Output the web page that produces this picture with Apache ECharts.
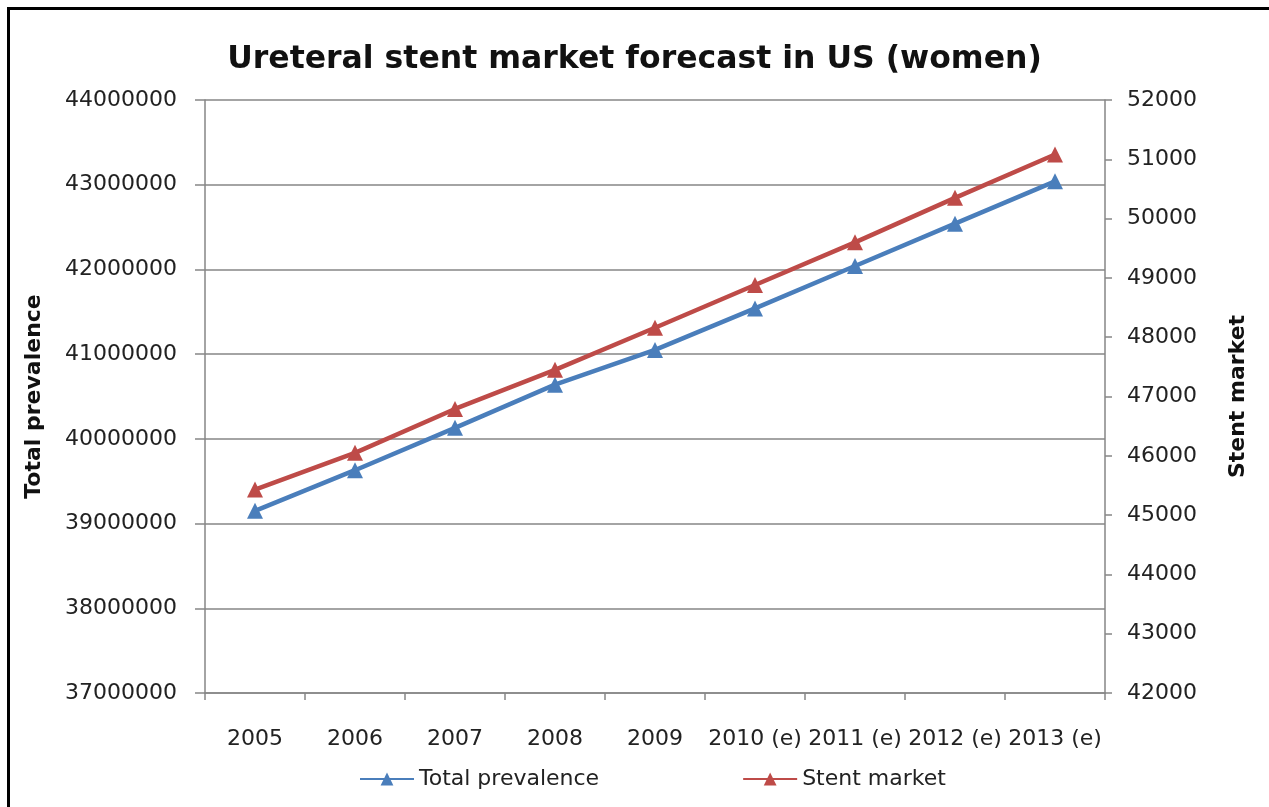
<!DOCTYPE html>
<html>
<head>
<meta charset="utf-8">
<script src="https://cdn.jsdelivr.net/npm/echarts@6/dist/echarts.min.js"></script>
<style>
html,body{margin:0;padding:0;background:#fff;}
#chart{width:1269px;height:807px;}
</style>
</head>
<body>
<div id="chart"></div>
<script>
const titleText = 'Ureteral stent market forecast in US (women)';
const categories = ['2005','2006','2007','2008','2009','2010 (e)','2011 (e)','2012 (e)','2013 (e)'];
const totalPrevalence = [39150000, 39630000, 40130000, 40640000, 41050000, 41540000, 42040000, 42540000, 43040000];
const stentMarket = [45430, 46050, 46790, 47450, 48160, 48880, 49600, 50350, 51080];
const leftAxisName = 'Total prevalence';
const rightAxisName = 'Stent market';

const FONT = 'DejaVu Sans';
const plain = v => String(v);
const chart = echarts.init(document.getElementById('chart'));
chart.setOption({
  backgroundColor: '#ffffff',
  animation: false,
  title: {
    text: titleText,
    left: 'center',
    top: 39,
    textStyle: {fontFamily: FONT, fontSize: 31.5, fontWeight: 'bold', color: '#111'}
  },
  legend: {
    left: 354,
    top: 763,
    itemGap: 143,
    itemWidth: 54,
    itemHeight: 16,
    textStyle: {fontFamily: FONT, fontSize: 22, color: '#222'},
    data: ['Total prevalence', 'Stent market']
  },
  grid: {left: 205, right: 164, top: 100, bottom: 114, containLabel: false, outerBoundsMode: 'none'},
  xAxis: {
    type: 'category',
    data: categories,
    boundaryGap: true,
    axisLine: {lineStyle: {color: '#868686', width: 1.5}},
    axisTick: {show: true, length: 7, lineStyle: {color: '#868686', width: 1.5}},
    axisLabel: {fontFamily: FONT, fontSize: 22, color: '#222', margin: 35, interval: 0}
  },
  yAxis: [
    {
      type: 'value',
      min: 37000000, max: 44000000, interval: 1000000,
      name: leftAxisName,
      nameLocation: 'middle',
      nameRotate: 90,
      nameGap: 160,
      nameTextStyle: {fontFamily: FONT, fontSize: 22, fontWeight: 'bold', color: '#111'},
      axisLine: {show: true, lineStyle: {color: '#868686', width: 1.5}},
      axisTick: {show: true, length: 10, lineStyle: {color: '#868686', width: 1.5}},
      splitLine: {show: true, lineStyle: {color: '#868686', width: 1.5}},
      axisLabel: {fontFamily: FONT, fontSize: 22, color: '#222', margin: 28, formatter: plain}
    },
    {
      type: 'value',
      min: 42000, max: 52000, interval: 1000,
      position: 'right',
      name: rightAxisName,
      nameLocation: 'middle',
      nameRotate: 90,
      nameGap: 122,
      nameTextStyle: {fontFamily: FONT, fontSize: 22, fontWeight: 'bold', color: '#111'},
      axisLine: {show: true, lineStyle: {color: '#868686', width: 1.5}},
      axisTick: {show: true, length: 7, lineStyle: {color: '#868686', width: 1.5}},
      splitLine: {show: false},
      axisLabel: {fontFamily: FONT, fontSize: 22, color: '#222', margin: 22, formatter: plain}
    }
  ],
  series: [
    {
      name: 'Total prevalence',
      type: 'line',
      yAxisIndex: 0,
      data: totalPrevalence,
      symbol: 'triangle',
      symbolSize: 16,
      lineStyle: {color: '#4A7EBB', width: 4.5},
      itemStyle: {color: '#4A7EBB'}
    },
    {
      name: 'Stent market',
      type: 'line',
      yAxisIndex: 1,
      data: stentMarket,
      symbol: 'triangle',
      symbolSize: 16,
      lineStyle: {color: '#BE4B48', width: 4.5},
      itemStyle: {color: '#BE4B48'}
    }
  ],
  graphic: [
    {type: 'line', shape: {x1: 7, y1: 8.5, x2: 1269, y2: 8.5}, style: {stroke: '#000', lineWidth: 3}},
    {type: 'line', shape: {x1: 8.5, y1: 7, x2: 8.5, y2: 807}, style: {stroke: '#000', lineWidth: 3}}
  ]
});
</script>
</body>
</html>
